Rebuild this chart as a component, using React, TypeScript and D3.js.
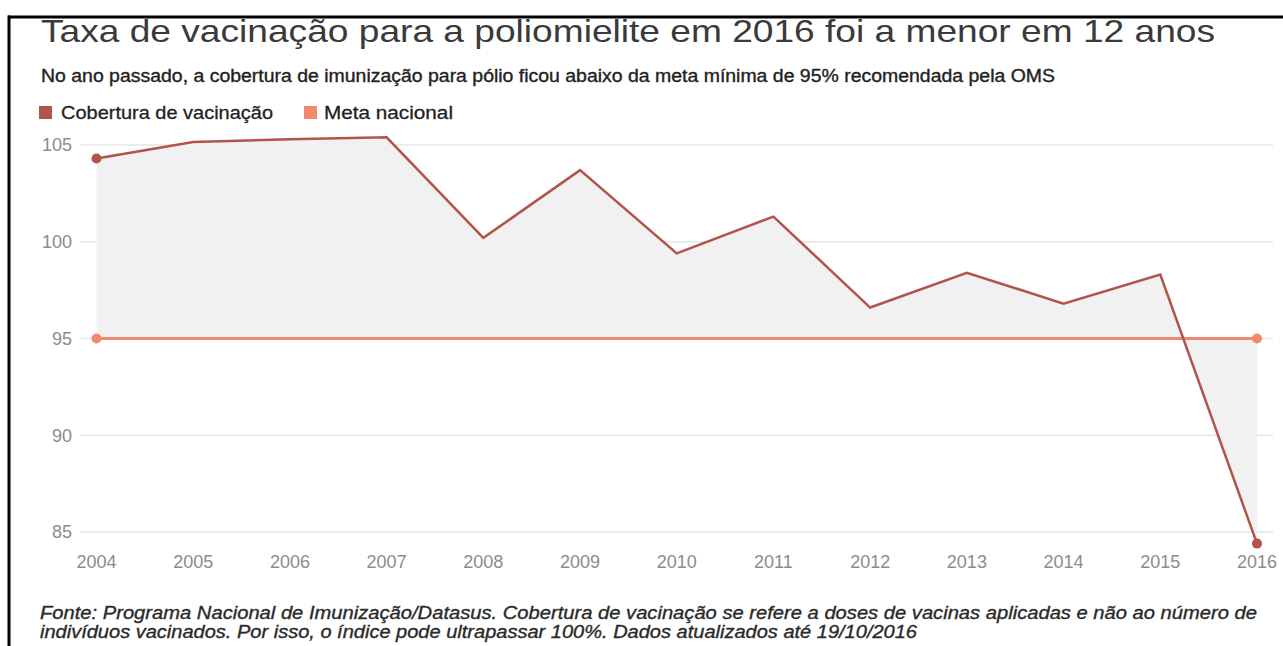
import React from "react";
import * as d3 from "d3";

const years = ["2004","2005","2006","2007","2008","2009","2010","2011","2012","2013","2014","2015","2016"];
const coverage = [104.3, 105.15, 105.3, 105.4, 100.2, 103.7, 99.4, 101.3, 96.6, 98.4, 96.8, 98.3, 84.4];
const meta = [95, 95, 95, 95, 95, 95, 95, 95, 95, 95, 95, 95, 95];
const yTicks = [85, 90, 95, 100, 105];
const seriesNames = ["Cobertura de vacinação", "Meta nacional"];
const title = "Taxa de vacinação para a poliomielite em 2016 foi a menor em 12 anos";
const subtitle = "No ano passado, a cobertura de imunização para pólio ficou abaixo da meta mínima de 95% recomendada pela OMS";
const footer = [
  "Fonte: Programa Nacional de Imunização/Datasus. Cobertura de vacinação se refere a doses de vacinas aplicadas e não ao número de",
  "indivíduos vacinados. Por isso, o índice pode ultrapassar 100%. Dados atualizados até 19/10/2016",
];

const COVER = "#b2544b";
const META = "#f2896c";
const FONT = "'Liberation Sans', Arial, Helvetica, sans-serif";

export default function App() {
  const W = 1283, H = 646;
  const x = d3.scalePoint<string>().domain(years).range([96.5, 1257]);
  const y = d3.scaleLinear().domain([85, 105]).range([532, 145]);
  const rows = years.map((yr, i) => ({ yr, c: coverage[i], m: meta[i] }));
  const area = d3.area<any>().x(d => x(d.yr)!).y0(d => y(d.m)).y1(d => y(d.c));
  const covLine = d3.line<any>().x(d => x(d.yr)!).y(d => y(d.c));
  const metaLine = d3.line<any>().x(d => x(d.yr)!).y(d => y(d.m));
  const first = rows[0], last = rows[rows.length - 1];

  return (
    <svg width={W} height={H} style={{ position: "absolute", left: 0, top: 0, background: "#fff" }} fontFamily={FONT}>
      <rect x={0} y={0} width={W} height={H} fill="#fff" />
      {/* title */}
      <text x={41} y={42} fontSize={32} fill="#3a3a3a" textLength={1174} lengthAdjust="spacingAndGlyphs">{title}</text>
      <text x={41} y={82} fontSize={17.5} fill="#222" stroke="#222" strokeWidth={0.35} textLength={1014} lengthAdjust="spacingAndGlyphs">{subtitle}</text>
      {/* legend */}
      <rect x={39} y={106} width={13} height={13} fill={COVER} />
      <text x={61} y={119} fontSize={19} fill="#222" stroke="#222" strokeWidth={0.3} textLength={212} lengthAdjust="spacingAndGlyphs">{seriesNames[0]}</text>
      <rect x={304} y={106} width={13} height={13} fill={META} />
      <text x={324} y={119} fontSize={19} fill="#222" stroke="#222" strokeWidth={0.3} textLength={129} lengthAdjust="spacingAndGlyphs">{seriesNames[1]}</text>

      {/* grid */}
      {yTicks.map(t => (
        <g key={t}>
          <line x1={80} x2={1273} y1={y(t)} y2={y(t)} stroke="#e6e6e6" strokeWidth={1.5} />
          <text x={72} y={y(t)} dy="0.35em" textAnchor="end" fontSize={18} fill="#8c8c8c">{t}</text>
        </g>
      ))}
      {years.map(yr => (
        <text key={yr} x={x(yr)} y={568} textAnchor="middle" fontSize={18} fill="#8c8c8c">{yr}</text>
      ))}

      <path d={area(rows)!} fill="#f1f1f1" />
      <path d={metaLine(rows)!} fill="none" stroke={META} strokeWidth={3} />
      <circle cx={x(first.yr)} cy={y(first.m)} r={5} fill={META} />
      <circle cx={x(last.yr)} cy={y(last.m)} r={5} fill={META} />
      <path d={covLine(rows)!} fill="none" stroke={COVER} strokeWidth={2.5} strokeLinejoin="miter" />
      <circle cx={x(first.yr)} cy={y(first.c)} r={5} fill={COVER} />
      <circle cx={x(last.yr)} cy={y(last.c)} r={5} fill={COVER} />

      {/* footer */}
      {footer.map((f, i) => (
        <text key={i} x={40} y={619 + i * 18.5} fontSize={18.5} fontStyle="italic" fill="#2a2a2a" stroke="#2a2a2a" strokeWidth={0.35}
          textLength={i === 0 ? 1217 : 877} lengthAdjust="spacingAndGlyphs">{f}</text>
      ))}

      {/* frame */}
      <line x1={8} x2={W} y1={17} y2={17} stroke="#000" strokeWidth={3} />
      <line x1={9} x2={9} y1={15.5} y2={H} stroke="#000" strokeWidth={3} />
    </svg>
  );
}
